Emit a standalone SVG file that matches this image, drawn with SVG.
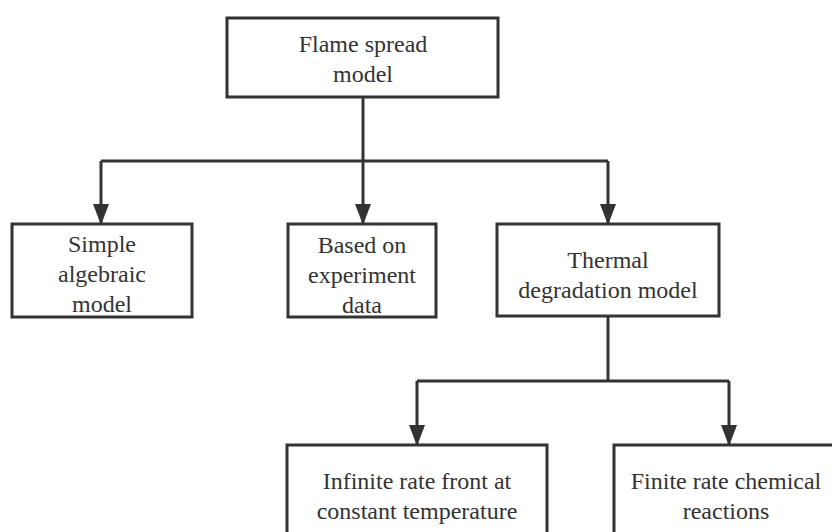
<svg xmlns="http://www.w3.org/2000/svg" width="832" height="532" viewBox="0 0 832 532">
<defs>
<style>
.box{fill:#fff;stroke:#333;stroke-width:3}
.t{font-family:'Liberation Serif','Tinos','Times New Roman','DejaVu Serif',serif;font-size:24px;fill:#333;text-anchor:middle}
.c{fill:none;stroke:#333;stroke-width:3}
.a{fill:none;stroke:#333;stroke-width:3;marker-end:url(#ah)}
</style>
<marker id="ah" markerUnits="userSpaceOnUse" markerWidth="22" markerHeight="16" viewBox="0 0 22 16" refX="21" refY="8" orient="auto">
<path d="M0,0 L21,8 L0,16 Z" fill="#333"/>
</marker>
</defs>
<rect width="832" height="532" fill="#fff"/>
<g id="connectors">
<path class="c" d="M363,97 V161"/>
<path class="c" d="M101,161 H608"/>
<path class="a" d="M101,161 V225"/>
<path class="a" d="M363,161 V225"/>
<path class="a" d="M608,161 V225"/>
<path class="c" d="M608,316 V381"/>
<path class="c" d="M417,381 H729"/>
<path class="a" d="M417,381 V446"/>
<path class="a" d="M729,381 V446"/>
</g>
<g id="n-flame">
<rect class="box" x="227" y="18" width="271" height="79"/>
<text class="t" x="363" y="52">Flame spread</text>
<text class="t" x="363" y="82">model</text>
</g>
<g id="n-simple">
<rect class="box" x="12" y="224" width="180" height="93"/>
<text class="t" x="102" y="252">Simple</text>
<text class="t" x="102" y="282">algebraic</text>
<text class="t" x="102" y="312">model</text>
</g>
<g id="n-based">
<rect class="box" x="288" y="224" width="148" height="93"/>
<text class="t" x="362" y="253">Based on</text>
<text class="t" x="362" y="283">experiment</text>
<text class="t" x="362" y="313">data</text>
</g>
<g id="n-thermal">
<rect class="box" x="497" y="224" width="222" height="92"/>
<text class="t" x="608" y="268">Thermal</text>
<text class="t" x="608" y="298">degradation model</text>
</g>
<g id="n-infinite">
<rect class="box" x="287" y="445" width="260" height="100"/>
<text class="t" x="417" y="489">Infinite rate front at</text>
<text class="t" x="417" y="519">constant temperature</text>
</g>
<g id="n-finite">
<rect class="box" x="614" y="445" width="240" height="100"/>
<text class="t" x="726" y="489">Finite rate chemical</text>
<text class="t" x="726" y="519">reactions</text>
</g>
</svg>
